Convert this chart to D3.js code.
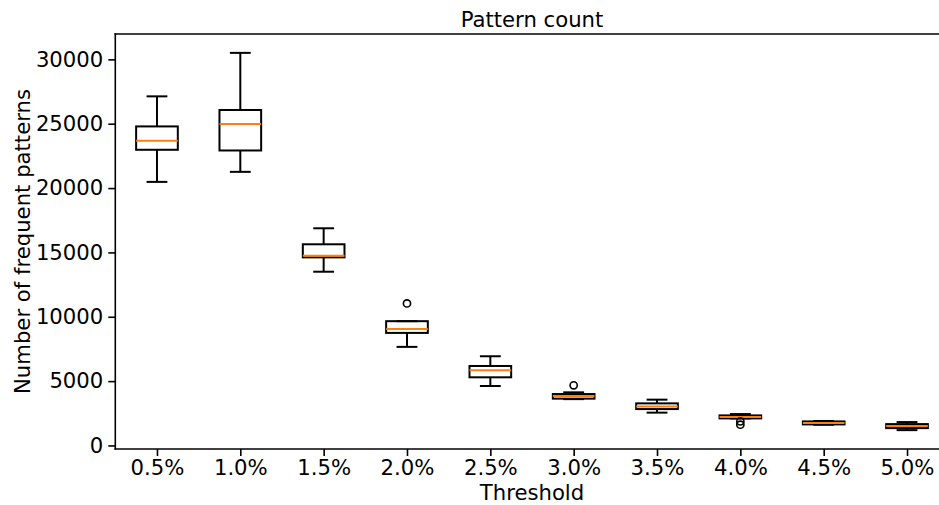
<!DOCTYPE html>
<html>
<head>
<meta charset="utf-8">
<script src="https://cdn.jsdelivr.net/npm/d3@7"></script>
<style>
  html, body { margin: 0; padding: 0; background: #fff; }
  svg { display: block; font-family: "DejaVu Sans", sans-serif; }
</style>
</head>
<body>
<svg id="chart" width="939" height="505"></svg>
<script>
const categories = ["0.5%", "1.0%", "1.5%", "2.0%", "2.5%", "3.0%", "3.5%", "4.0%", "4.5%", "5.0%"];
const whiskerLow  = [20480, 21260, 13500, 7660, 4620, 3600, 2550, 2103, 1610, 1191];
const q1          = [22975, 22920, 14614, 8746, 5296, 3637, 2827, 2103, 1635, 1347];
const medians     = [23675, 24976, 14744, 9058, 5841, 3840, 3037, 2220, 1750, 1503];
const q3          = [24790, 26066, 15631, 9657, 6176, 3995, 3271, 2336, 1869, 1660];
const whiskerHigh = [27126, 30505, 16875, 9657, 6931, 4128, 3559, 2440, 1900, 1817];
const outliers    = [[], [], [], [11035], [], [4673], [], [1869, 1612], [], []];
const yTicks = [0, 5000, 10000, 15000, 20000, 25000, 30000];
const title = "Pattern count";
const xLabel = "Threshold";
const yLabel = "Number of frequent patterns";

(function () {
const svg = d3.select("#chart");
const mLeft = 115.3, mRight = 948.7, mTop = 34, mBottom = 449;
const FS = 21.2;

const positions = categories.map((c, i) => i + 1);
const x = d3.scaleLinear().domain([0.5, categories.length + 0.5]).range([mLeft, mRight]);

const allVals = whiskerLow.concat(whiskerHigh, outliers.flat());
const dmin = d3.min(allVals), dmax = d3.max(allVals);
const pad = (dmax - dmin) * 0.05;
const y = d3.scaleLinear().domain([dmin - pad, dmax + pad]).range([mBottom, mTop]);

const boxW = 0.5, capW = 0.25;
const g = svg.append("g");

categories.forEach((c, i) => {
  const p = positions[i];
  const bx0 = x(p - boxW / 2), bx1 = x(p + boxW / 2);
  const cx0 = x(p - capW / 2), cx1 = x(p + capW / 2);
  const xc = x(p);
  const line = (x1, y1, x2, y2, col, w) => g.append("line")
    .attr("x1", x1).attr("y1", y1).attr("x2", x2).attr("y2", y2)
    .attr("stroke", col).attr("stroke-width", w).attr("stroke-linecap", "butt");
  line(xc, y(q1[i]), xc, y(whiskerLow[i]), "#000", 2);
  line(xc, y(q3[i]), xc, y(whiskerHigh[i]), "#000", 2);
  line(cx0, y(whiskerLow[i]), cx1, y(whiskerLow[i]), "#000", 2);
  line(cx0, y(whiskerHigh[i]), cx1, y(whiskerHigh[i]), "#000", 2);
  g.append("rect")
    .attr("x", bx0).attr("y", y(q3[i]))
    .attr("width", bx1 - bx0).attr("height", y(q1[i]) - y(q3[i]))
    .attr("fill", "none").attr("stroke", "#000").attr("stroke-width", 2);
  line(bx0, y(medians[i]), bx1, y(medians[i]), "#ff7f0e", 2);
  outliers[i].forEach(v => {
    g.append("circle").attr("cx", xc).attr("cy", y(v)).attr("r", 3.6)
      .attr("fill", "none").attr("stroke", "#000").attr("stroke-width", 1.6);
  });
});

const yAxis = d3.axisLeft(y).tickValues(yTicks).tickFormat(d3.format("d")).tickSize(7).tickPadding(5);
const yg = svg.append("g").attr("transform", `translate(${mLeft},0)`).call(yAxis);
const xAxis = d3.axisBottom(x).tickValues(positions).tickFormat((d, i) => categories[i]).tickSize(7).tickPadding(3.5);
const xg = svg.append("g").attr("transform", `translate(0,${mBottom})`).call(xAxis);
[yg, xg].forEach(a => {
  a.select(".domain").remove();
  a.selectAll(".tick line").attr("stroke", "#000").attr("stroke-width", 1.6);
  a.selectAll(".tick text").attr("font-size", FS).attr("fill", "#000")
    .attr("font-family", "DejaVu Sans, sans-serif");
});

const sp = (x1, y1, x2, y2) => svg.append("line").attr("x1", x1).attr("y1", y1).attr("x2", x2).attr("y2", y2)
  .attr("stroke", "#000").attr("stroke-width", 1.6).attr("stroke-linecap", "square");
sp(mLeft, mTop, mLeft, mBottom);
sp(mLeft, mTop, mRight, mTop);
sp(mLeft, mBottom, mRight, mBottom);
sp(mRight, mTop, mRight, mBottom);

const cx = (mLeft + mRight) / 2;
svg.append("text").attr("x", cx).attr("y", 27).attr("text-anchor", "middle")
  .attr("font-size", FS).attr("fill", "#000").text(title);
svg.append("text").attr("x", cx).attr("y", 500).attr("text-anchor", "middle")
  .attr("font-size", FS).attr("fill", "#000").text(xLabel);
svg.append("text").attr("transform", `translate(30,${(mTop + mBottom) / 2}) rotate(-90)`)
  .attr("text-anchor", "middle").attr("font-size", FS).attr("fill", "#000").text(yLabel);
})();
</script>
</body>
</html>
